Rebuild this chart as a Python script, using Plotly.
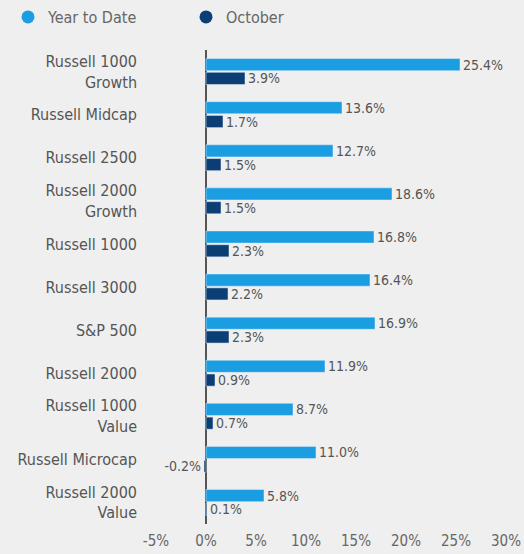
import plotly.graph_objects as go

categories = ["Russell 1000<br>Growth", "Russell Midcap", "Russell 2500", "Russell 2000<br>Growth",
              "Russell 1000", "Russell 3000", "S&P 500", "Russell 2000", "Russell 1000<br>Value",
              "Russell Microcap", "Russell 2000<br>Value"]
ytd = [25.4, 13.6, 12.7, 18.6, 16.8, 16.4, 16.9, 11.9, 8.7, 11.0, 5.8]
october = [3.9, 1.7, 1.5, 1.5, 2.3, 2.2, 2.3, 0.9, 0.7, -0.2, 0.1]
xticks = [-5, 0, 5, 10, 15, 20, 25, 30]
xticklabels = ["-5%", "0%", "5%", "10%", "15%", "20%", "25%", "30%"]

LIGHT = "#1b9de2"
DARK = "#0c3e76"
FONT = "DejaVu Sans Condensed, Roboto, sans-serif"
TXT = "#555555"

fig = go.Figure()
fig.add_bar(y=categories, x=ytd, orientation="h", marker_color=LIGHT, name="Year to Date",
            text=[f"{v:.1f}%" for v in ytd], textposition="outside", cliponaxis=False,
            constraintext="none",
            textfont=dict(size=14, color=TXT, family=FONT), showlegend=False)
fig.add_bar(y=categories, x=october, orientation="h", marker_color=DARK, name="October",
            text=[f"{v:.1f}%" for v in october], textposition="outside", cliponaxis=False,
            constraintext="none",
            textfont=dict(size=14, color=TXT, family=FONT), showlegend=False)
# legend entries with circle symbols (two single-entry legends for exact placement)
fig.add_scatter(x=[None], y=[None], mode="markers", name="Year to Date", legend="legend",
                marker=dict(symbol="circle", size=13, color=LIGHT))
fig.add_scatter(x=[None], y=[None], mode="markers", name="October", legend="legend2",
                marker=dict(symbol="circle", size=13, color=DARK))

leg_common = dict(orientation="h", xref="container", yref="container", y=1.0,
                  xanchor="left", yanchor="top", font=dict(size=16, color="#666666"),
                  bgcolor="rgba(0,0,0,0)")
fig.update_layout(
    width=524, height=554,
    paper_bgcolor="#efefef", plot_bgcolor="#efefef",
    margin=dict(l=156, r=18, t=50, b=30, autoexpand=False),
    barmode="group", bargap=0.36, bargroupgap=0.12,
    font=dict(family=FONT, size=15, color=TXT),
    legend=dict(x=0.0153, **leg_common),
    legend2=dict(x=0.355, **leg_common),
    xaxis=dict(range=[-5, 30], tickvals=xticks, ticktext=xticklabels, showgrid=False,
               zeroline=True, zerolinecolor="#555555", zerolinewidth=2, ticklabelstandoff=6,
               automargin=False, tickfont=dict(size=15, color="#666666")),
    yaxis=dict(autorange="reversed", showgrid=False, ticklabelstandoff=18, automargin=False,
               tickfont=dict(size=16, color=TXT)),
)
fig.write_html("out.html")
